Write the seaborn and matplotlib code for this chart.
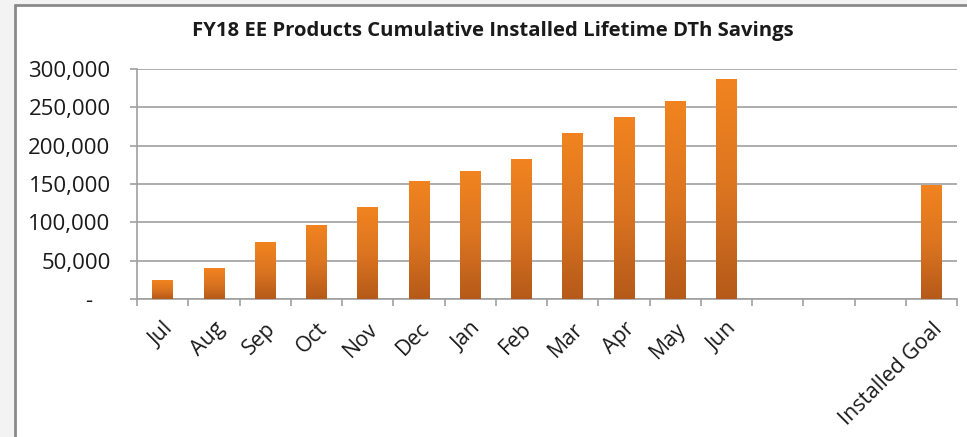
import numpy as np
import pandas as pd
import matplotlib
matplotlib.use("Agg")
import matplotlib.pyplot as plt
import seaborn as sns
from matplotlib.colors import LinearSegmentedColormap
from matplotlib.ticker import FuncFormatter, FixedLocator
from matplotlib.patches import Rectangle
from matplotlib.lines import Line2D

# values
months = ['Jul', 'Aug', 'Sep', 'Oct', 'Nov', 'Dec', 'Jan', 'Feb', 'Mar', 'Apr', 'May', 'Jun', 'Installed Goal']
savings = [23500, 40000, 73500, 96500, 120000, 153000, 165700, 182000, 215600, 237000, 258000, 285700, 148300]
order = ['Jul', 'Aug', 'Sep', 'Oct', 'Nov', 'Dec', 'Jan', 'Feb', 'Mar', 'Apr', 'May', 'Jun', ' ', '  ', '   ', 'Installed Goal']

df = pd.DataFrame({'month': months, 'dth': savings})

sns.set_style("white")
plt.rcParams['font.family'] = ['Open Sans', 'DejaVu Sans']

fig = plt.figure(figsize=(9.67, 4.37), dpi=100)
fig.patch.set_facecolor('#f3f3f3')

# white chart area with a grey frame on the left and top
fig.add_artist(Rectangle((16 / 967, 0), 1, 1 - 6 / 437, transform=fig.transFigure,
                         facecolor='white', edgecolor='none', zorder=-10))
fig.add_artist(Line2D([15 / 967, 15 / 967], [0, 1 - 5 / 437], transform=fig.transFigure,
                      color='#8a8a8a', lw=2))
fig.add_artist(Line2D([15 / 967, 1], [1 - 5 / 437, 1 - 5 / 437], transform=fig.transFigure,
                      color='#8a8a8a', lw=2))

ax = fig.add_axes([137 / 967, 1 - 299 / 437, 820 / 967, 230 / 437])
ax.set_facecolor('none')

sns.barplot(data=df, x='month', y='dth', order=order, color='#e07a22', width=0.4, ax=ax)

# gradient fill, lighter orange at top, darker at bottom
cmap = LinearSegmentedColormap.from_list('bar', ['#b55a19', '#dc7521', '#f1841f'])
grad = np.linspace(0, 1, 256).reshape(-1, 1)
for p in ax.patches:
    h = p.get_height()
    if not np.isfinite(h) or h <= 0:
        continue
    x0 = p.get_x()
    w = p.get_width()
    ax.imshow(grad, extent=[x0, x0 + w, 0, h], origin='lower', aspect='auto', cmap=cmap, zorder=3)
    p.set_visible(False)

ax.set_xlim(-0.5, len(order) - 0.5)
ax.set_ylim(0, 300000)
ax.set_xlabel('')
ax.set_ylabel('')

ax.yaxis.set_major_locator(FixedLocator([0, 50000, 100000, 150000, 200000, 250000, 300000]))
ax.yaxis.set_major_formatter(FuncFormatter(lambda v, pos: '-   ' if v == 0 else f'{v:,.0f}'))
ax.grid(axis='y', color='#a0a0a0', lw=1.2, zorder=0)
ax.set_axisbelow(True)

for s in ['top', 'right']:
    ax.spines[s].set_visible(False)
for s in ['left', 'bottom']:
    ax.spines[s].set_color('#a0a0a0')
    ax.spines[s].set_linewidth(1.2)

ax.tick_params(axis='y', which='major', length=5, color='#a0a0a0', width=1.2, pad=14,
               labelsize=16, labelcolor='#1a1a1a', left=True)

# x tick marks sit between the categories
ax.set_xticks(np.arange(len(order)))
ax.set_xticks(np.arange(len(order) + 1) - 0.5, minor=True)
ax.tick_params(axis='x', which='major', length=0, pad=14, labelsize=15.3, labelcolor='#1a1a1a')
ax.tick_params(axis='x', which='minor', length=5, color='#a0a0a0', width=1.2, bottom=True)
for lab in ax.get_xticklabels():
    lab.set_rotation(45)
    lab.set_ha('right')
    lab.set_va('top')
    lab.set_rotation_mode('anchor')

fig.text(493 / 967, 1 - 31 / 437, 'FY18 EE Products Cumulative Installed Lifetime DTh Savings',
         ha='center', va='center', fontsize=14.6, fontweight='bold', color='#1a1a1a')

fig.savefig('out.png', dpi=100, facecolor=fig.get_facecolor())
